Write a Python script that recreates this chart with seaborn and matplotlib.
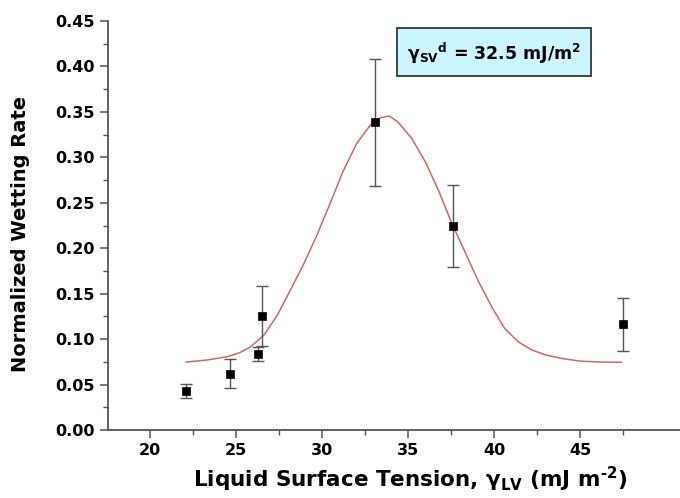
import matplotlib
matplotlib.use("Agg")
import matplotlib.pyplot as plt
from matplotlib.ticker import FixedLocator, MultipleLocator, FormatStrFormatter
from matplotlib.patches import Rectangle
import seaborn as sns
import pandas as pd

# measured points
tension = [22.1, 24.65, 26.3, 26.5, 33.1, 37.6, 47.5]
rate = [0.043, 0.062, 0.084, 0.126, 0.339, 0.225, 0.117]
rate_low = [0.0355, 0.0465, 0.0762, 0.0924, 0.269, 0.179, 0.0869]
rate_high = [0.0503, 0.0778, 0.0916, 0.1587, 0.408, 0.2695, 0.1455]

# fitted curve
fit_x = [22.1, 23.3, 24.5, 25.2, 25.8, 26.6, 27.4, 28.1, 28.9, 29.7, 30.5,
         31.2, 32.0, 32.8, 33.4, 33.9, 34.4, 35.2, 36.0, 36.8, 37.5, 38.3,
         39.1, 39.9, 40.6, 41.4, 42.2, 43.0, 44.0, 45.0, 46.2, 47.4]
fit_y = [0.0748, 0.0770, 0.0807, 0.0850, 0.0910, 0.1040, 0.1265, 0.152,
         0.1815, 0.2145, 0.251, 0.284, 0.315, 0.3355, 0.3436, 0.3455, 0.339,
         0.321, 0.295, 0.262, 0.229, 0.196, 0.163, 0.134, 0.112, 0.097,
         0.088, 0.0825, 0.0785, 0.0758, 0.0748, 0.0745]

pts = pd.DataFrame({"x": tension, "y": rate, "lo": rate_low, "hi": rate_high})
fit = pd.DataFrame({"x": fit_x, "y": fit_y})

sns.set_theme(style="ticks")
plt.rcParams["font.family"] = ["DejaVu Sans"]
plt.rcParams["mathtext.fontset"] = "dejavusans"
plt.rcParams["text.color"] = "black"
plt.rcParams["axes.labelcolor"] = "black"

fig = plt.figure(figsize=(6.8, 4.98), dpi=100)
ax = fig.add_axes([0.159, 0.1365, 0.841, 0.8213])

sns.lineplot(data=fit, x="x", y="y", ax=ax, color="#c96a6a", linewidth=1.1,
             sort=False, estimator=None)
ax.errorbar(pts["x"], pts["y"], yerr=[pts["y"] - pts["lo"], pts["hi"] - pts["y"]],
            fmt="none", ecolor="#555555", elinewidth=1.0, capsize=4, capthick=1.0,
            zorder=3)
sns.scatterplot(data=pts, x="x", y="y", ax=ax, marker="s", s=38, color="black",
                edgecolor="black", zorder=4)

ax.set_xlim(17.56, 50.8)
ax.set_ylim(0, 0.45)
ax.xaxis.set_major_locator(FixedLocator([20, 25, 30, 35, 40, 45]))
ax.xaxis.set_minor_locator(FixedLocator([22.5, 27.5, 32.5, 37.5, 42.5, 47.5]))
ax.yaxis.set_major_locator(MultipleLocator(0.05))
ax.yaxis.set_minor_locator(MultipleLocator(0.025))
ax.yaxis.set_major_formatter(FormatStrFormatter("%.2f"))

sns.despine(ax=ax)
for s in ["left", "bottom"]:
    ax.spines[s].set_color("#555555")
    ax.spines[s].set_linewidth(1.3)
ax.tick_params(which="major", direction="out", length=6, width=1.1, color="#555555",
               labelsize=11.5, labelcolor="black")
ax.tick_params(which="minor", direction="out", length=3.5, width=1.0, color="#555555")
for lab in ax.get_xticklabels() + ax.get_yticklabels():
    lab.set_fontweight("bold")

ax.set_xlabel(r"Liquid Surface Tension, $\mathbf{γ_{LV}}$ (mJ m$\mathbf{^{‐2}}$)",
              fontsize=15.5, fontweight="bold")
ax.set_ylabel("Normalized Wetting Rate", fontsize=14, fontweight="bold")
ax.xaxis.set_label_coords(0.528, -0.085)
ax.yaxis.set_label_coords(-0.136, 0.48)

# annotation box
fig.patches.append(Rectangle((397 / 680, 1 - 76 / 498), 194 / 680, 48 / 498,
                             transform=fig.transFigure, facecolor="#ccf6ff",
                             edgecolor="#444444", linewidth=1.4, zorder=5))
fig.text(494 / 680, 1 - 53 / 498, r"$\mathbf{γ_{SV}{}^{d}}$ = 32.5 mJ/m$\mathbf{^{2}}$",
         ha="center", va="center", fontsize=12.5, fontweight="bold", zorder=6)

fig.savefig("out.png", dpi=100)
